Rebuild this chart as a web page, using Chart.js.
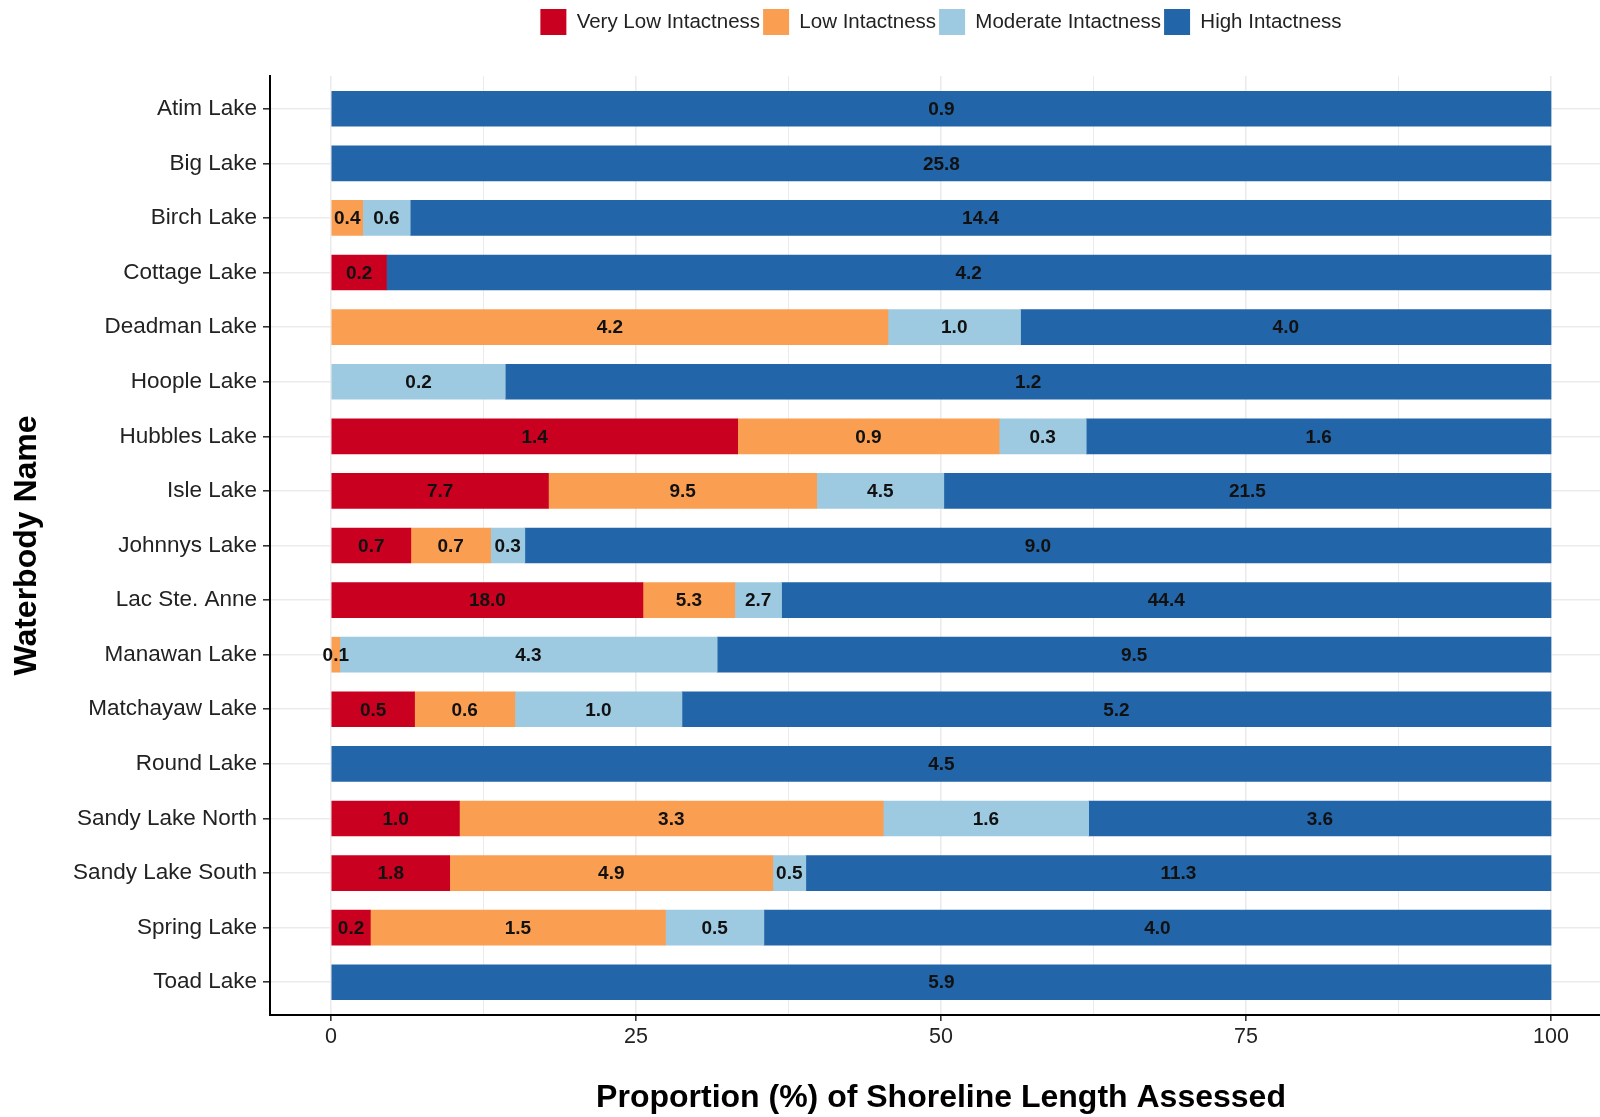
<!DOCTYPE html>
<html>
<head>
<meta charset="utf-8">
<script src="https://cdn.jsdelivr.net/npm/chart.js@4.4.1/dist/chart.umd.min.js"></script>
<style>
  html, body { margin: 0; padding: 0; background: #ffffff; overflow: hidden; }
  #wrap { width: 1612px; height: 1117px; }
</style>
</head>
<body>
<div id="wrap"><canvas id="c" width="1612" height="1117"></canvas></div>
<script>
// ---- data (shoreline length, km, per intactness class) ----
const categories = ["Atim Lake", "Big Lake", "Birch Lake", "Cottage Lake", "Deadman Lake", "Hoople Lake",
  "Hubbles Lake", "Isle Lake", "Johnnys Lake", "Lac Ste. Anne", "Manawan Lake", "Matchayaw Lake",
  "Round Lake", "Sandy Lake North", "Sandy Lake South", "Spring Lake", "Toad Lake"];
const seriesNames = ["Very Low Intactness", "Low Intactness", "Moderate Intactness", "High Intactness"];
const veryLow  = [0,   0,    0,    0.2, 0,   0,   1.4, 7.7, 0.7, 18.0, 0,   0.5, 0,   1.0, 1.8, 0.2, 0];
const low      = [0,   0,    0.4,  0,   4.2, 0,   0.9, 9.5, 0.7, 5.3,  0.1, 0.6, 0,   3.3, 4.9, 1.5, 0];
const moderate = [0,   0,    0.6,  0,   1.0, 0.2, 0.3, 4.5, 0.3, 2.7,  4.3, 1.0, 0,   1.6, 0.5, 0.5, 0];
const high     = [0.9, 25.8, 14.4, 4.2, 4.0, 1.2, 1.6, 21.5, 9.0, 44.4, 9.5, 5.2, 4.5, 3.6, 11.3, 4.0, 5.9];
const xTickValues = [0, 12.5, 25, 37.5, 50, 62.5, 75, 87.5, 100];
const xTickLabels = ["0", "", "25", "", "50", "", "75", "", "100"];

const rawSeries = [veryLow, low, moderate, high];
const colors = ["#CA0020", "#FA9F52", "#9ECAE1", "#2265A9"];
const totals = categories.map((_, i) => rawSeries.reduce((s, arr) => s + arr[i], 0));

const FONT = '"Liberation Sans", Arial, Helvetica, sans-serif';

const datasets = rawSeries.map((arr, k) => ({
  label: seriesNames[k],
  data: arr.map((v, i) => v > 0 ? v / totals[i] * 100 : null),
  rawValues: arr,
  backgroundColor: colors[k],
  borderWidth: 0,
  barThickness: 35
}));

const segLabels = {
  id: 'segLabels',
  afterDatasetsDraw(chart) {
    const ctx = chart.ctx;
    ctx.save();
    ctx.font = 'bold 19px ' + FONT;
    ctx.fillStyle = '#111111';
    ctx.textAlign = 'center';
    ctx.textBaseline = 'middle';
    chart.data.datasets.forEach((ds, di) => {
      const meta = chart.getDatasetMeta(di);
      meta.data.forEach((bar, i) => {
        const raw = ds.rawValues[i];
        if (!raw) return;
        const p = bar.getCenterPoint();
        ctx.fillText(raw.toFixed(1), p.x, p.y + 1);
      });
    });
    ctx.restore();
  }
};

const legendSpace = {
  id: 'legendSpace',
  beforeLayout(chart) {
    const lg = chart.legend;
    if (lg && !lg._patched) {
      const fit = lg.fit;
      lg.fit = function () { fit.call(this); this.height = 76; };
      const draw = lg.draw;
      lg.draw = function () {
        const ctx = this.ctx;
        ctx.save();
        ctx.translate(0, 6);
        draw.apply(this, arguments);
        ctx.restore();
      };
      lg._patched = true;
    }
  }
};

new Chart(document.getElementById('c'), {
  type: 'bar',
  data: { labels: categories, datasets: datasets },
  options: {
    indexAxis: 'y',
    responsive: false,
    animation: false,
    devicePixelRatio: 1,
    layout: { padding: 0 },
    plugins: {
      legend: {
        position: 'top',
        fullSize: false,
        labels: {
          boxWidth: 26, boxHeight: 26, padding: 3,
          color: '#222222',
          font: { family: FONT, size: 20.5 }
        }
      },
      tooltip: { enabled: false }
    },
    scales: {
      x: {
        type: 'linear',
        stacked: true,
        min: -5, max: 105,
        afterBuildTicks: (scale) => { scale.ticks = xTickValues.map(v => ({ value: v })); },
        afterFit: (scale) => { scale.height = 102; },
        ticks: {
          autoSkip: false,
          maxRotation: 0,
          padding: 3,
          color: '#222222',
          font: { family: FONT, size: 21.5 },
          callback: (v, i) => xTickLabels[i]
        },
        grid: {
          color: '#EBEBEB',
          lineWidth: (ctx) => (ctx.tick && ctx.tick.value % 25 === 0) ? 1.6 : 1,
          tickColor: (ctx) => (ctx.tick && ctx.tick.value % 25 === 0) ? '#333333' : 'rgba(0,0,0,0)',
          tickLength: 6,
          tickWidth: 1.6
        },
        border: { display: true, color: '#000000', width: 2 },
        title: {
          display: true,
          text: 'Proportion (%) of Shoreline Length Assessed',
          color: '#000000',
          font: { family: FONT, size: 32, weight: 'bold' },
          padding: { top: 0, bottom: 0 }
        }
      },
      y: {
        type: 'category',
        stacked: true,
        afterBuildTicks: (scale) => { scale._startValue = -0.6; scale._valueRange = 17.2; },
        afterFit: (scale) => { scale.width = 270; },
        ticks: {
          autoSkip: false,
          padding: 6,
          color: '#222222',
          font: { family: FONT, size: 22.5 }
        },
        grid: {
          offset: false,
          color: '#EBEBEB',
          lineWidth: 1.6,
          tickColor: '#333333',
          tickLength: 7,
          tickWidth: 1.6
        },
        border: { display: true, color: '#000000', width: 2 },
        title: {
          display: true,
          text: 'Waterbody Name',
          color: '#000000',
          font: { family: FONT, size: 32, weight: 'bold' },
          padding: { top: 8, bottom: 0 }
        }
      }
    }
  },
  plugins: [segLabels, legendSpace]
});
</script>
</body>
</html>
